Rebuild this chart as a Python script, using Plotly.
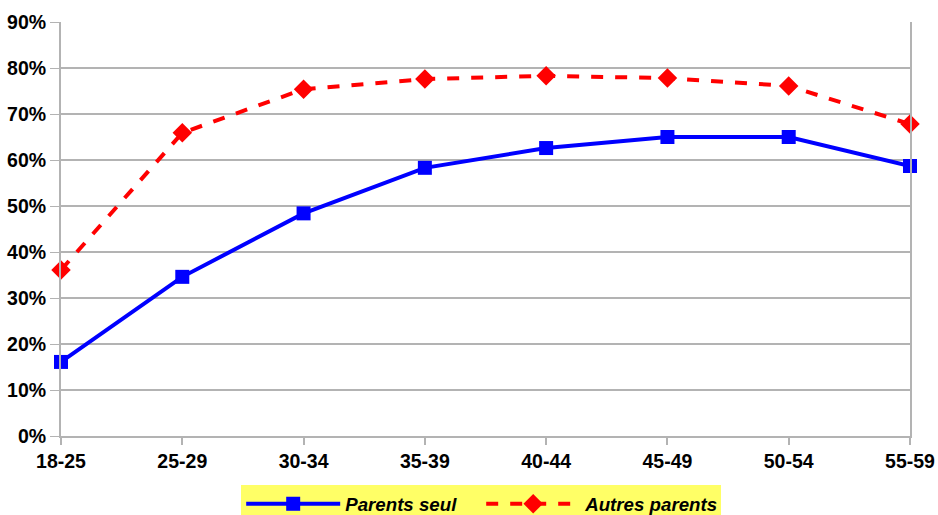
import plotly.graph_objects as go

categories = ["18-25", "25-29", "30-34", "35-39", "40-44", "45-49", "50-54", "55-59"]
parents_seul = [16.1, 34.6, 48.4, 58.3, 62.6, 65.0, 65.0, 58.7]
autres_parents = [36.1, 65.9, 75.4, 77.6, 78.3, 77.8, 76.1, 67.8]
y_ticks = [0, 10, 20, 30, 40, 50, 60, 70, 80, 90]
y_tick_labels = [f"{v}%" for v in y_ticks]

fig = go.Figure()
fig.add_trace(go.Scatter(
    x=categories, y=parents_seul, name="Parents seul", mode="lines+markers",
    line=dict(color="#0000ff", width=4),
    marker=dict(symbol="square", size=14, color="#0000ff"),
    cliponaxis=False,
))
fig.add_trace(go.Scatter(
    x=categories, y=autres_parents, name="Autres parents", mode="lines+markers",
    line=dict(color="#ff0000", width=4, dash="dash"),
    marker=dict(symbol="diamond", size=15, color="#ff0000"),
    cliponaxis=False,
))

fig.update_layout(
    width=938, height=515,
    margin=dict(l=61, r=28, t=22, b=79),
    paper_bgcolor="white", plot_bgcolor="white",
    font=dict(family="Liberation Sans, Arial, sans-serif", color="black"),
    showlegend=True,
    legend=dict(
        orientation="h", xref="container", yref="container",
        x=0.513, xanchor="center", y=0.058, yanchor="top",
        bgcolor="#ffff66", font=dict(size=18.7, style="italic", weight="bold"),
        itemwidth=94, tracegroupgap=0,
        entrywidth=131, entrywidthmode="pixels",
    ),
    xaxis=dict(
        type="category", range=[0, 7], showgrid=False, automargin=False,
        showline=True, linecolor="#b3b3b3", linewidth=2,
        ticks="outside", ticklen=7, tickcolor="#b3b3b3", tickwidth=1.5,
        tickfont=dict(size=19.5, weight="bold"),
    ),
    yaxis=dict(
        range=[0, 90], tickvals=y_ticks, ticktext=y_tick_labels, automargin=False,
        showgrid=True, gridcolor="#b3b3b3", gridwidth=1.5,
        showline=True, linecolor="#b3b3b3", linewidth=2, mirror=True,
        ticks="outside", ticklen=9, tickcolor="#b3b3b3",
        tickfont=dict(size=19.5, weight="bold"), zeroline=False,
    ),
)

fig.write_html(
    "out.html",
    config={"displayModeBar": False},
    post_script="document.body.style.margin='0';document.body.style.overflow='hidden';",
)
